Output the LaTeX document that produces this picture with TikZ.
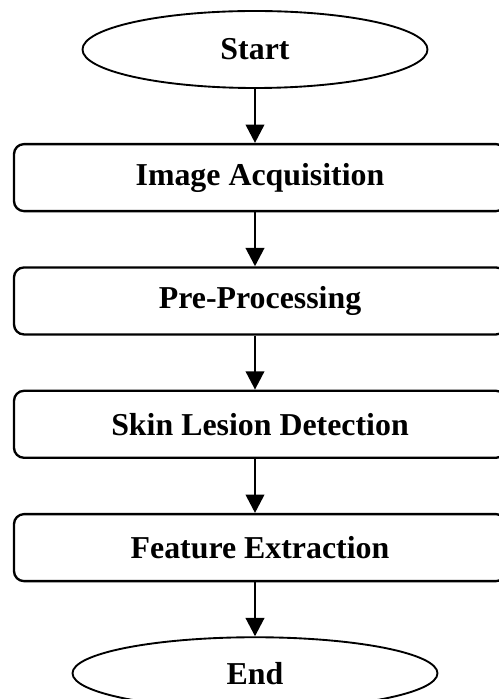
\documentclass[tikz,border=0pt]{standalone}
\usepackage{fontspec}
\setmainfont{Liberation Serif}
\usepackage{tikz}
\usetikzlibrary{positioning,shapes.geometric,arrows.meta}

\begin{document}
\begin{tikzpicture}[
            node distance=1.62cm,
            every node/.style={font=\fontsize{27.2}{32}\selectfont\bfseries},
            term/.style={ellipse,draw,line width=1.6pt,minimum width=10.35cm,minimum height=2.31cm,inner sep=0pt},
            stepbox/.style={rectangle,rounded corners=0.3cm,draw,line width=2pt,minimum width=14.76cm,minimum height=2.01cm},
            arr/.style={line width=2.4pt,-{Triangle[width=0.55cm,length=0.55cm]}}
        ]
          \useasboundingbox (-7.65,1.485) rectangle (7.29,-19.485);
          \node[term] (start) at (0,0) {Start};
          \node[stepbox, below=of start, xshift=0.15cm] (acq) {Image Acquisition};
          \node[stepbox, below=of acq] (pre) {Pre-Processing};
          \node[stepbox, below=of pre] (det) {Skin Lesion Detection};
          \node[stepbox, below=of det] (feat) {Feature Extraction};
          \node[term, below=of feat, xshift=-0.15cm, minimum width=10.95cm, minimum height=2.16cm] (end) {End};
          \draw[arr] (start) -- (start |- acq.north);
          \draw[arr] (start |- acq.south) -- (start |- pre.north);
          \draw[arr] (start |- pre.south) -- (start |- det.north);
          \draw[arr] (start |- det.south) -- (start |- feat.north);
          \draw[arr] (start |- feat.south) -- (end);
        \end{tikzpicture}
\end{document}
